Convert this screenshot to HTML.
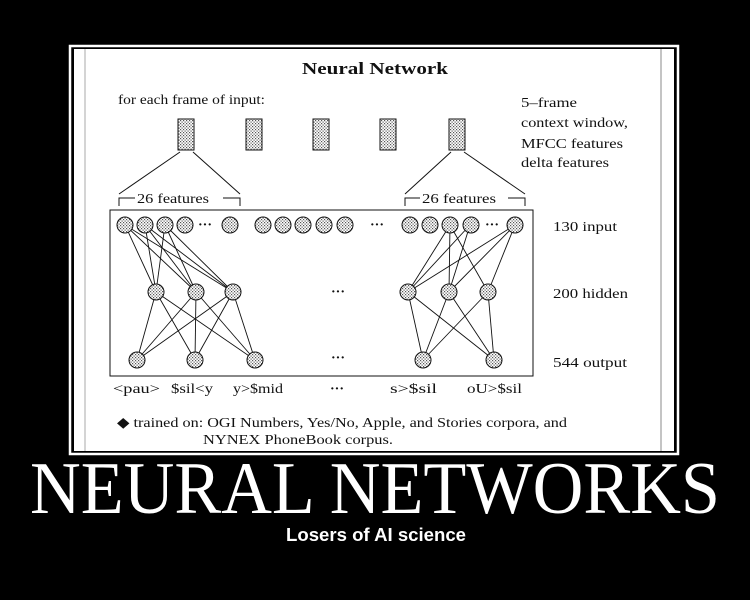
<!DOCTYPE html>
<html><head><meta charset="utf-8"><style>
html,body{margin:0;padding:0;background:#000;width:750px;height:600px;overflow:hidden}
svg{display:block}
.t{font-family:"Liberation Serif",serif;font-size:14px;fill:#111}
</style></head><body>
<svg width="750" height="600" viewBox="0 0 750 600" xmlns="http://www.w3.org/2000/svg">
<defs>
<pattern id="dots" width="3" height="3" patternUnits="userSpaceOnUse">
<rect width="3" height="3" fill="#fff"/><rect x="0" y="0" width="1.2" height="1.2" fill="#555"/><rect x="1.5" y="1.5" width="1.2" height="1.2" fill="#555"/>
</pattern>
</defs>
<rect x="0" y="0" width="750" height="600" fill="#000"/>
<rect x="70" y="46" width="608" height="408" fill="none" stroke="#fff" stroke-width="2.5"/>
<rect x="74" y="49" width="600" height="402" fill="#fff"/>
<line x1="85" y1="49" x2="85" y2="451" stroke="#aaa" stroke-width="1"/>
<line x1="661" y1="49" x2="661" y2="451" stroke="#888" stroke-width="1"/>

<text x="302" y="74" textLength="146" lengthAdjust="spacingAndGlyphs" style="font-family:'Liberation Serif',serif;font-weight:bold;font-size:17px" fill="#111">Neural Network</text>
<text class="t" x="118" y="104" textLength="147" lengthAdjust="spacingAndGlyphs">for each frame of input:</text>
<text class="t" x="521" y="107" textLength="56" lengthAdjust="spacingAndGlyphs">5–frame</text>
<text class="t" x="521" y="127" textLength="107" lengthAdjust="spacingAndGlyphs">context window,</text>
<text class="t" x="521" y="148" textLength="102" lengthAdjust="spacingAndGlyphs">MFCC features</text>
<text class="t" x="521" y="167" textLength="88" lengthAdjust="spacingAndGlyphs">delta features</text>
<text class="t" x="553" y="231" textLength="64" lengthAdjust="spacingAndGlyphs">130 input</text>
<text class="t" x="553" y="298" textLength="75" lengthAdjust="spacingAndGlyphs">200 hidden</text>
<text class="t" x="553" y="367" textLength="74" lengthAdjust="spacingAndGlyphs">544 output</text>

<g fill="url(#dots)" stroke="#111" stroke-width="1">
<rect x="178" y="119" width="16" height="31"/>
<rect x="246" y="119" width="16" height="31"/>
<rect x="313" y="119" width="16" height="31"/>
<rect x="380" y="119" width="16" height="31"/>
<rect x="449" y="119" width="16" height="31"/>
</g>
<g stroke="#111" stroke-width="1" fill="none">
<line x1="180" y1="152" x2="119" y2="194"/><line x1="193" y1="152" x2="240" y2="194"/>
<line x1="451" y1="152" x2="405" y2="194"/><line x1="464" y1="152" x2="525" y2="194"/>
<polyline points="119,206 119,198 135,198"/><polyline points="223,198 240,198 240,206"/>
<polyline points="405,206 405,198 420,198"/><polyline points="508,198 525,198 525,206"/>
<rect x="110" y="210" width="423" height="166"/>
</g>
<text class="t" x="137" y="203" textLength="72" lengthAdjust="spacingAndGlyphs">26 features</text>
<text class="t" x="422" y="203" textLength="74" lengthAdjust="spacingAndGlyphs">26 features</text>

<g stroke="#111" stroke-width="0.9">
<line x1="125" y1="225" x2="156" y2="292"/><line x1="125" y1="225" x2="196" y2="292"/><line x1="125" y1="225" x2="233" y2="292"/>
<line x1="145" y1="225" x2="156" y2="292"/><line x1="145" y1="225" x2="196" y2="292"/><line x1="145" y1="225" x2="233" y2="292"/>
<line x1="165" y1="225" x2="156" y2="292"/><line x1="165" y1="225" x2="196" y2="292"/><line x1="165" y1="225" x2="233" y2="292"/>
<line x1="156" y1="292" x2="137" y2="360"/><line x1="156" y1="292" x2="195" y2="360"/><line x1="156" y1="292" x2="255" y2="360"/>
<line x1="196" y1="292" x2="137" y2="360"/><line x1="196" y1="292" x2="195" y2="360"/><line x1="196" y1="292" x2="255" y2="360"/>
<line x1="233" y1="292" x2="137" y2="360"/><line x1="233" y1="292" x2="195" y2="360"/><line x1="233" y1="292" x2="255" y2="360"/>
<line x1="450" y1="225" x2="408" y2="292"/><line x1="450" y1="225" x2="449" y2="292"/><line x1="450" y1="225" x2="488" y2="292"/>
<line x1="470" y1="225" x2="408" y2="292"/><line x1="470" y1="225" x2="449" y2="292"/>
<line x1="515" y1="225" x2="408" y2="292"/><line x1="515" y1="225" x2="449" y2="292"/><line x1="515" y1="225" x2="488" y2="292"/>
<line x1="408" y1="292" x2="423" y2="360"/><line x1="408" y1="292" x2="494" y2="360"/>
<line x1="449" y1="292" x2="423" y2="360"/><line x1="449" y1="292" x2="494" y2="360"/>
<line x1="488" y1="292" x2="423" y2="360"/><line x1="488" y1="292" x2="494" y2="360"/>
</g>

<g fill="url(#dots)" stroke="#111" stroke-width="1">
<circle cx="125" cy="225" r="8"/><circle cx="145" cy="225" r="8"/><circle cx="165" cy="225" r="8"/><circle cx="185" cy="225" r="8"/><circle cx="230" cy="225" r="8"/>
<circle cx="263" cy="225" r="8"/><circle cx="283" cy="225" r="8"/><circle cx="303" cy="225" r="8"/><circle cx="324" cy="225" r="8"/><circle cx="345" cy="225" r="8"/>
<circle cx="410" cy="225" r="8"/><circle cx="430" cy="225" r="8"/><circle cx="450" cy="225" r="8"/><circle cx="471" cy="225" r="8"/><circle cx="515" cy="225" r="8"/>
<circle cx="156" cy="292" r="8"/><circle cx="196" cy="292" r="8"/><circle cx="233" cy="292" r="8"/>
<circle cx="408" cy="292" r="8"/><circle cx="449" cy="292" r="8"/><circle cx="488" cy="292" r="8"/>
<circle cx="137" cy="360" r="8"/><circle cx="195" cy="360" r="8"/><circle cx="255" cy="360" r="8"/>
<circle cx="423" cy="360" r="8"/><circle cx="494" cy="360" r="8"/>
</g>
<g class="t" style="font-weight:bold">
<text x="205" y="229" text-anchor="middle">···</text>
<text x="377" y="229" text-anchor="middle">···</text>
<text x="492" y="229" text-anchor="middle">···</text>
<text x="338" y="296" text-anchor="middle">···</text>
<text x="338" y="362" text-anchor="middle">···</text>
</g>
<text class="t" x="113" y="393" textLength="47" lengthAdjust="spacingAndGlyphs">&lt;pau&gt;</text>
<text class="t" x="171" y="393" textLength="42" lengthAdjust="spacingAndGlyphs">$sil&lt;y</text>
<text class="t" x="233" y="393" textLength="50" lengthAdjust="spacingAndGlyphs">y&gt;$mid</text>
<text class="t" x="330" y="393" style="font-weight:bold">···</text>
<text class="t" x="390" y="393" textLength="47" lengthAdjust="spacingAndGlyphs">s&gt;$sil</text>
<text class="t" x="467" y="393" textLength="55" lengthAdjust="spacingAndGlyphs">oU&gt;$sil</text>
<text class="t" x="117" y="427" textLength="450" lengthAdjust="spacingAndGlyphs">◆ trained on: OGI Numbers, Yes/No, Apple, and Stories corpora, and</text>
<text class="t" x="203" y="444" textLength="190" lengthAdjust="spacingAndGlyphs">NYNEX PhoneBook corpus.</text>

<text x="375" y="513" text-anchor="middle" textLength="690" lengthAdjust="spacingAndGlyphs" style="font-family:'Liberation Serif',serif;font-size:74px" fill="#fff">NEURAL NETWORKS</text>
<text x="286" y="541" textLength="180" lengthAdjust="spacingAndGlyphs" style="font-family:'Liberation Sans',sans-serif;font-weight:bold;font-size:18px" fill="#fff">Losers of AI science</text>
</svg>
</body></html>
